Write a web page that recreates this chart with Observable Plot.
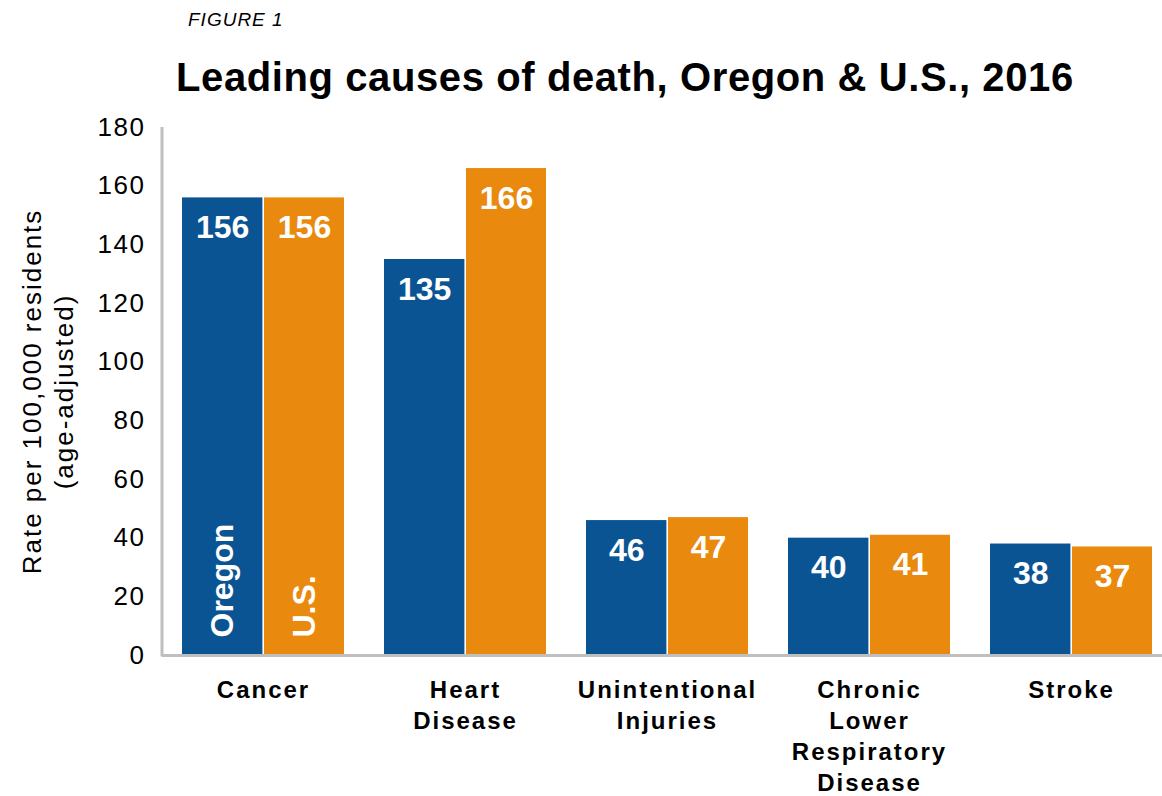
<!DOCTYPE html>
<html>
<head>
<meta charset="utf-8">
<script src="https://cdn.jsdelivr.net/npm/d3@7"></script>
<script src="https://cdn.jsdelivr.net/npm/@observablehq/plot@0.6"></script>
<style>
  html, body { margin: 0; padding: 0; background: #fff; }
  body { width: 1162px; height: 796px; overflow: hidden; font-family: "Liberation Sans", Arial, sans-serif; color: #000; }
  #fig { height: 40px; line-height: 40px; padding-left: 188px; font-style: italic; font-size: 19px; letter-spacing: 1px; }
  #title { height: 70px; line-height: 74px; padding-left: 176px; font-weight: bold; font-size: 40px; letter-spacing: 0.6px; white-space: nowrap; }
</style>
</head>
<body>
<div id="fig">FIGURE 1</div>
<div id="title">Leading causes of death, Oregon &amp; U.S., 2016</div>
<div id="chart"></div>
<script>
const causes = ["Cancer", "Heart Disease", "Unintentional Injuries", "Chronic Lower Respiratory Disease", "Stroke"];
const causeLabels = ["Cancer", "Heart\nDisease", "Unintentional\nInjuries", "Chronic\nLower\nRespiratory\nDisease", "Stroke"];
const oregon = [156, 135, 46, 40, 38];
const us = [156, 166, 47, 41, 37];
const seriesNames = ["Oregon", "U.S."];
const yTicks = [0, 20, 40, 60, 80, 100, 120, 140, 160, 180];
const yLabel = "Rate per 100,000 residents\n(age-adjusted)";

const blue = "#0B5494";
const orange = "#E98A0E";
const axisGray = "#BFBFBF";

const oregonRows = causes.map((c, i) => ({cause: c, value: oregon[i]}));
const usRows = causes.map((c, i) => ({cause: c, value: us[i]}));
const labelOf = new Map(causes.map((c, i) => [c, causeLabels[i]]));

const yAxisLine = (index, scales, values, dims) => {
  const ns = "http://www.w3.org/2000/svg";
  const line = document.createElementNS(ns, "line");
  line.setAttribute("x1", dims.marginLeft);
  line.setAttribute("x2", dims.marginLeft);
  line.setAttribute("y1", scales.y(180));
  line.setAttribute("y2", scales.y(0) + 1.5);
  line.setAttribute("stroke", axisGray);
  line.setAttribute("stroke-width", 3);
  return line;
};

const chart = Plot.plot({
  width: 1162,
  height: 686,
  marginLeft: 162,
  marginRight: 0,
  marginTop: 17,
  marginBottom: 141,
  style: {fontFamily: "Liberation Sans, Arial, sans-serif", background: "#fff", color: "#000"},
  x: {type: "band", domain: causes, paddingInner: 0.2, paddingOuter: 0.075, align: 0.66, axis: null},
  y: {domain: [0, 180], axis: null},
  marks: [
    Plot.barY(oregonRows, {x: "cause", y: "value", fill: blue, insetRight: 81.6}),
    Plot.barY(usRows, {x: "cause", y: "value", fill: orange, insetLeft: 82}),
    Plot.ruleY([0], {stroke: axisGray, strokeWidth: 3}),
    yAxisLine,
    Plot.axisY({ticks: yTicks, tickSize: 0, tickPadding: 17, fontSize: 26, label: null, tickFormat: d => String(d)}),
    Plot.axisX({tickSize: 0, tickPadding: 20, fontSize: 24, fontWeight: "bold", lineHeight: 1.3, label: null, tickFormat: d => labelOf.get(d)}),
    Plot.text([yLabel], {text: d => d, frameAnchor: "left", rotate: -90, dx: -116, fontSize: 26, lineHeight: 1.25, lineAnchor: "middle", textAnchor: "middle", fill: "#000"}),
    Plot.text(oregonRows, {x: "cause", y: "value", text: d => String(d.value), dx: -40.8, dy: 30, fill: "#fff", fontSize: 32, fontWeight: "bold", lineAnchor: "middle"}),
    Plot.text(usRows, {x: "cause", y: "value", text: d => String(d.value), dx: 41, dy: 30, fill: "#fff", fontSize: 32, fontWeight: "bold", lineAnchor: "middle"}),
    Plot.text([oregonRows[0]], {x: "cause", y: 0, text: () => seriesNames[0], dx: -40.8, dy: -18, rotate: -90, textAnchor: "start", lineAnchor: "middle", fill: "#fff", fontSize: 32, fontWeight: "bold"}),
    Plot.text([usRows[0]], {x: "cause", y: 0, text: () => seriesNames[1], dx: 41, dy: -18, rotate: -90, textAnchor: "start", lineAnchor: "middle", fill: "#fff", fontSize: 32, fontWeight: "bold"})
  ]
});
chart.querySelectorAll('g[aria-label="x-axis tick label"] text').forEach(t => t.setAttribute("letter-spacing", "2px"));
chart.querySelectorAll('g[aria-label="y-axis tick label"] text').forEach(t => t.setAttribute("letter-spacing", "1.5px"));
const textGroups = chart.querySelectorAll('g[aria-label="text"]');
if (textGroups.length) textGroups[0].querySelectorAll("text").forEach(t => t.setAttribute("letter-spacing", "2px"));
document.getElementById("chart").appendChild(chart);
</script>
</body>
</html>
